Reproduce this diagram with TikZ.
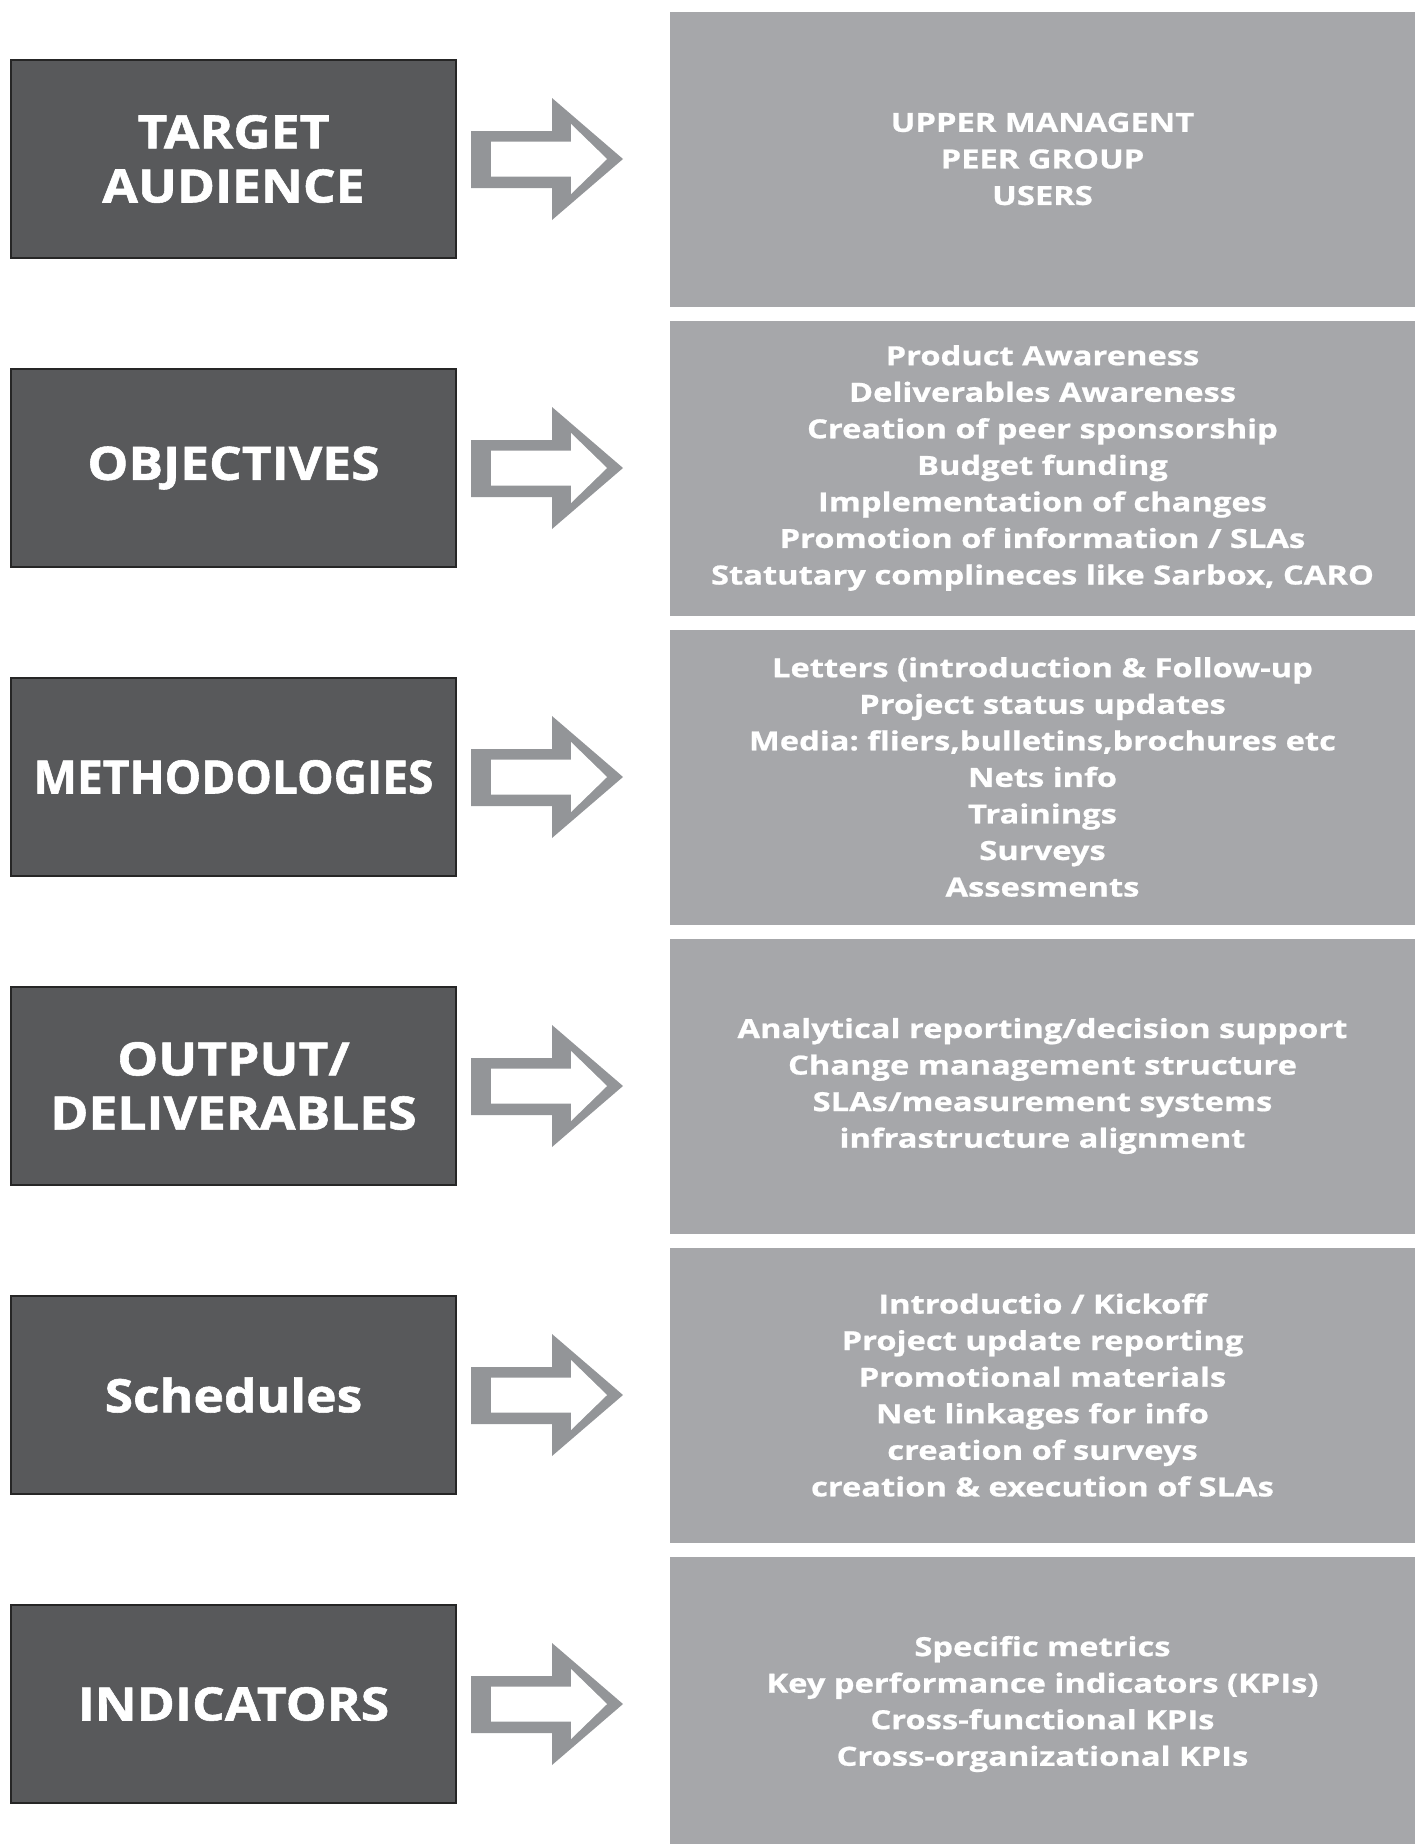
\documentclass[tikz,border=0pt]{standalone}
\usepackage{fontspec}
\setmainfont{Open Sans}[BoldFeatures={FakeBold=1.2}]
\newfontfamily\headfont{Open Sans}[FakeStretch=1.12, BoldFeatures={FakeBold=1.2}]
\newfontfamily\listfont{Open Sans}[FakeStretch=1.24, BoldFeatures={FakeBold=.8}]
\frenchspacing
\usetikzlibrary{positioning}
\definecolor{headgray}{HTML}{58595B}
\definecolor{listgray}{HTML}{A6A7AA}
\definecolor{arrowgray}{HTML}{939598}
\tikzset{
    head/.style={draw=black!85, line width=.6pt, fill=headgray, text=white,
        minimum width=4.45cm, minimum height=1.98cm, inner sep=0pt, outer sep=0pt,
        align=center, font=\headfont\fontsize{13.1}{15.4}\selectfont\bfseries},
    list/.style={fill=listgray, text=white, right=2.14cm of #1,
        minimum width=7.45cm, minimum height=2.95cm, inner sep=0pt, outer sep=0pt,
        align=center, font=\listfont\fontsize{7.5}{10.4}\selectfont\bfseries},
}

\begin{document}
\begin{tikzpicture}
    \useasboundingbox(0, 0)rectangle(14.15, -18.44);
    \clip(0, 0)rectangle(14.15, -18.44);
    % left column
    \node[head](tgt)at(2.335, -1.59){TARGET\\AUDIENCE};
    \node[head](obj)at(2.335, -4.68){OBJECTIVES};
    % too long for the stretched face
    \node[head, font=\rmfamily\fontsize{13.1}{15.4}\selectfont\bfseries](meth)at(2.335, -7.77){METHODOLOGIES};
    \node[head](outp)at(2.335, -10.86){OUTPUT/\\DELIVERABLES};
    \node[head](sched)at(2.335, -13.95){Schedules};
    \node[head](ind)at(2.335, -17.04){INDICATORS};
    % right column
    \node[list=tgt](tgtlist){UPPER MANAGENT\\PEER GROUP\\USERS};
    \node[list=obj](objlist){Product Awareness\\Deliverables Awareness\\Creation of peer sponsorship\\Budget funding\\Implementation of changes\\Promotion of information / SLAs\\Statutary complineces like Sarbox, CARO};
    \node[list=meth](methlist){Letters (introduction \& Follow-up\\Project status updates\\Media: fliers,bulletins,brochures etc\\Nets info\\Trainings\\Surveys\\Assesments};
    \node[list=outp](outplist){Analytical reporting/decision support\\Change management structure\\SLAs/measurement systems\\infrastructure alignment};
    \node[list=sched](schedlist){Introductio / Kickoff\\Project update reporting\\Promotional materials\\Net linkages for info\\creation of surveys\\creation \& execution of SLAs};
    \node[list=ind](indlist){Specific metrics\\Key performance indicators (KPIs)\\Cross-functional KPIs\\Cross-organizational KPIs};
    % hollow arrows between the columns
    \foreach \n in {tgt, obj, meth, outp, sched, ind}{
        \begin{scope}[shift={(\n.east)}]
            \fill[arrowgray](.15, .28)--(.96, .28)--(.96, .61)--(1.67, 0)--(.96, -.61)--(.96, -.29)--(.15, -.29)--cycle;
            \fill[white](.35, .175)--(1.15, .175)--(1.15, .35)--(1.51, 0)--(1.15, -.35)--(1.15, -.175)--(.35, -.175)--cycle;
        \end{scope}
    }
\end{tikzpicture}
\end{document}
